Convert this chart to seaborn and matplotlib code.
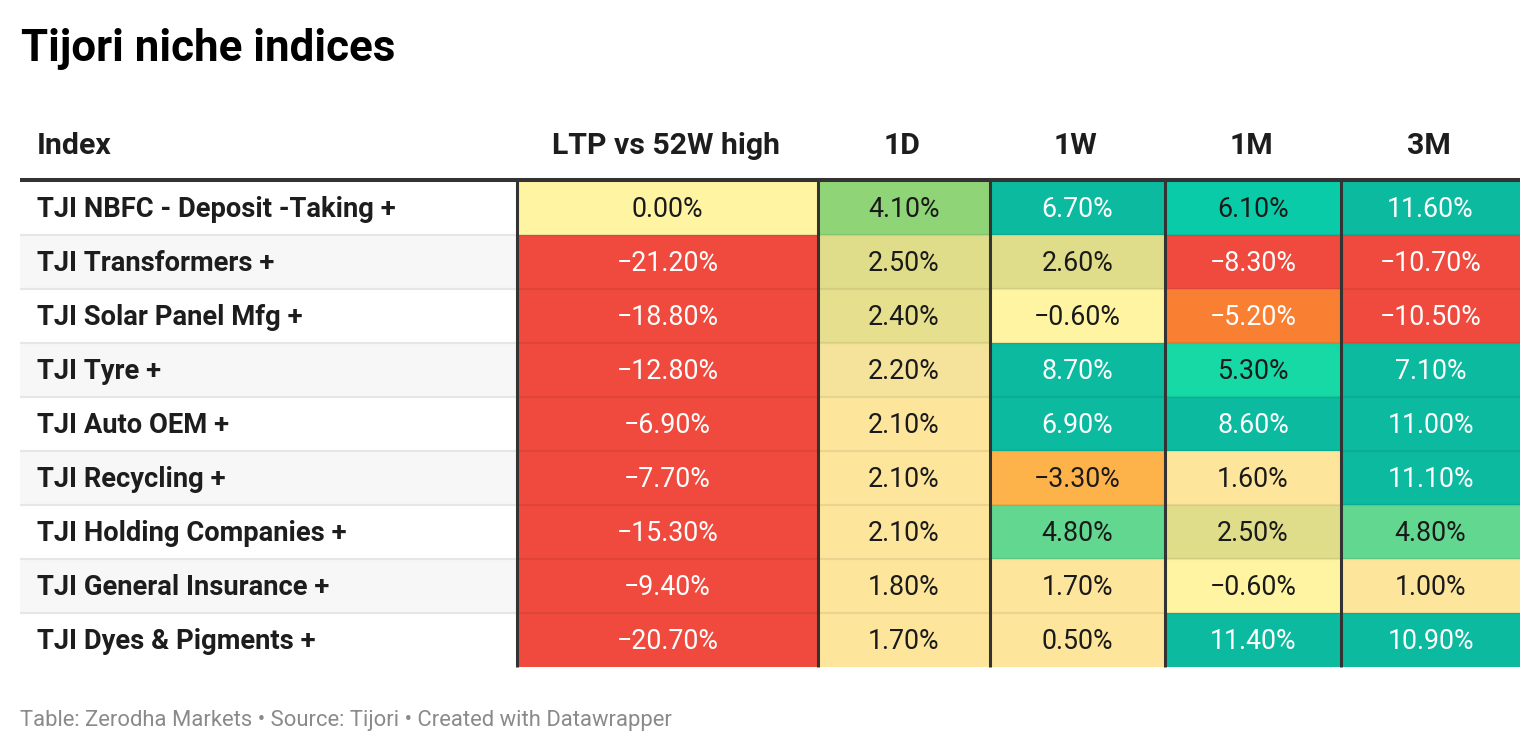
import numpy as np
import pandas as pd
import matplotlib.pyplot as plt
from matplotlib.colors import ListedColormap, BoundaryNorm
from matplotlib.patches import Rectangle
import seaborn as sns

# Dane tabeli
indices = [
    "TJI NBFC - Deposit -Taking +",
    "TJI Transformers +",
    "TJI Solar Panel Mfg +",
    "TJI Tyre +",
    "TJI Auto OEM +",
    "TJI Recycling +",
    "TJI Holding Companies +",
    "TJI General Insurance +",
    "TJI Dyes & Pigments +",
]
columns = ["LTP vs 52W high", "1D", "1W", "1M", "3M"]
ltp_vs_high = [0.0, -21.2, -18.8, -12.8, -6.9, -7.7, -15.3, -9.4, -20.7]
ret_1d = [4.1, 2.5, 2.4, 2.2, 2.1, 2.1, 2.1, 1.8, 1.7]
ret_1w = [6.7, 2.6, -0.6, 8.7, 6.9, -3.3, 4.8, 1.7, 0.5]
ret_1m = [6.1, -8.3, -5.2, 5.3, 8.6, 1.6, 2.5, -0.6, 11.4]
ret_3m = [11.6, -10.7, -10.5, 7.1, 11.0, 11.1, 4.8, 1.0, 10.9]

df = pd.DataFrame(
    {"LTP vs 52W high": ltp_vs_high, "1D": ret_1d, "1W": ret_1w, "1M": ret_1m, "3M": ret_3m},
    index=indices,
)

# Skala kolorów (Datawrapper-like, przedziały)
bounds = [-30, -6, -4.2, -1, 0.25, 2.15, 2.3, 2.45, 3.5, 4.5, 5.0, 5.7, 6.4, 30]
colors = ['#ef4a3d', '#f97f33', '#feb34a', '#fef4a2', '#fde59b', '#f6e39b', '#e6df8e',
          '#e0dd8a', '#8fd476', '#62d78f', '#17d9a5', '#0acba8', '#0bba9f']
white_text = {'#ef4a3d', '#f97f33', '#0bba9f'}
cmap = ListedColormap(colors)
norm = BoundaryNorm(bounds, cmap.N)

W, H = 1540, 752
plt.rcParams['font.family'] = ['Roboto', 'DejaVu Sans']
fig = plt.figure(figsize=(W / 100, H / 100), dpi=100)
fig.patch.set_facecolor('white')

# tło w pikselach
bg = fig.add_axes([0, 0, 1, 1], zorder=0)
bg.set_xlim(0, W)
bg.set_ylim(H, 0)
bg.axis('off')

top, row_h = 181, 54
n = len(indices)
col_edges = [517, 818, 990, 1165, 1341, 1520]

# kolumna Index
for i, name in enumerate(indices):
    y0 = top + i * row_h
    bg.add_patch(Rectangle((20, y0), col_edges[0] - 20, row_h,
                           facecolor='#f7f7f7' if i % 2 == 1 else 'white', edgecolor='none'))
    bg.text(37, y0 + row_h / 2 + 9, name, fontsize=19.7, fontweight='bold',
            color='#1d1d1d', va='baseline', ha='left')
    if i > 0:
        bg.plot([20, col_edges[0]], [y0, y0], color='#e6e6e6', lw=1.6, solid_capstyle='butt')

# heatmapy - jedna na kolumnę
for j, col in enumerate(columns):
    x0, x1 = col_edges[j], col_edges[j + 1]
    ax = fig.add_axes([x0 / W, 1 - (top + n * row_h) / H, (x1 - x0) / W, n * row_h / H], zorder=2)
    vals = df[[col]]
    labels = vals.map(lambda v: f"{v:.2f}%".replace('-', '\u2212')).values
    sns.heatmap(vals, ax=ax, cmap=cmap, norm=norm, cbar=False, annot=labels, fmt="",
                xticklabels=False, yticklabels=False, linewidths=0,
                annot_kws={'fontsize': 19.3, 'fontfamily': 'Roboto'})
    for t, v in zip(ax.texts, vals[col].values):
        c = colors[np.searchsorted(bounds, v, side='right') - 1]
        t.set_color('white' if c in white_text else '#1a1a1a')
        t.set_va('baseline')
        t.set_y(t.get_position()[1] + 0.17)
    for k in range(1, n):
        ax.axhline(k, color=(0, 0, 0, 0.07), lw=1.6)
    ax.set_xlabel('')
    ax.set_ylabel('')

# nakładka: linie i nagłówki
ov = fig.add_axes([0, 0, 1, 1], zorder=5)
ov.set_xlim(0, W)
ov.set_ylim(H, 0)
ov.axis('off')
ov.patch.set_alpha(0)
for x in col_edges[:-1]:
    ov.plot([x, x], [top, top + n * row_h], color='#333333', lw=2.2, solid_capstyle='butt')
ov.plot([20, 1520], [180, 180], color='#333333', lw=2.9, solid_capstyle='butt')

ov.text(37, 154, "Index", fontsize=21.8, fontweight='bold', color='#1d1d1d', ha='left', va='baseline')
for j, col in enumerate(columns):
    xc = (col_edges[j] + col_edges[j + 1]) / 2 - 2
    ov.text(xc, 154, col, fontsize=21.8, fontweight='bold', color='#1d1d1d', ha='center', va='baseline')

ov.text(21, 61, "Tijori niche indices", fontsize=31.6, fontweight='bold', color='black',
        ha='left', va='baseline')
ov.text(20, 726, "Table: Zerodha Markets \u2022 Source: Tijori \u2022 Created with Datawrapper",
        fontsize=15.8, color='#8a8a8a', ha='left', va='baseline')

fig.savefig('out.png', dpi=100)
print("zapisano out.png")
